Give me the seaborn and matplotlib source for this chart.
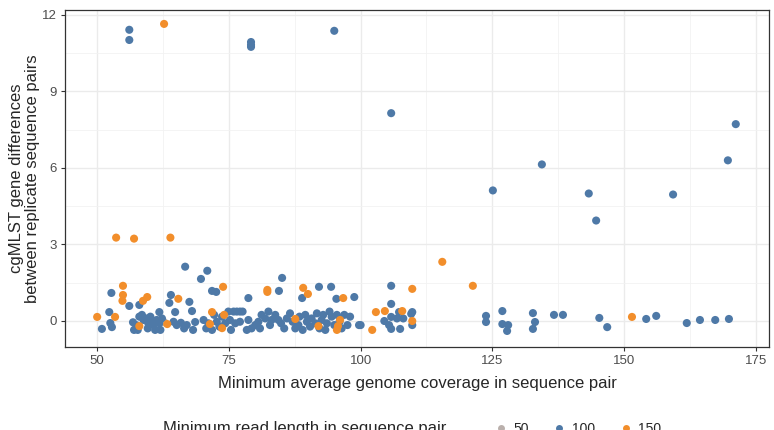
import pandas as pd
import numpy as np
import matplotlib.pyplot as plt
import seaborn as sns
from matplotlib.lines import Line2D
from matplotlib.ticker import MultipleLocator

# read length 100
cov_100 = [56.1, 56.1, 79.2, 79.2, 79.2, 95.0, 105.8, 134.4, 125.1, 143.3, 144.7, 159.3, 169.7, 171.2,
           105.8, 105.8, 107.3, 109.8, 104.5, 105.8, 106.9, 108.1, 105.4, 105.8, 107.5, 109.8, 100.0, 109.6,
           123.8, 123.8, 126.9, 126.9, 128.0, 127.8, 132.7, 133.1, 132.7, 136.7, 138.4, 145.3, 146.8,
           154.2, 156.1, 161.9, 164.4, 167.3, 169.9,
           50.9, 52.3, 52.7, 52.5, 52.8, 56.1, 58.0, 61.8, 62.0, 63.7, 64.0, 64.8, 66.7, 67.5, 68.0, 68.6,
           69.7, 70.9, 71.8, 72.6, 78.7, 84.5, 85.1, 88.9, 92.1, 94.4, 95.4, 98.8, 99.7,
           56.8, 57.0, 57.7, 58.0, 58.5, 58.8, 59.3, 59.7, 60.1, 60.4, 60.7, 57.4, 59.6,
           61.3, 61.8, 62.3, 61.0, 64.5, 65.1, 65.9, 66.5, 67.0, 68.2,
           70.2, 70.7, 71.1, 71.8, 72.2, 72.7, 73.2, 73.7, 74.3, 74.9, 75.4, 75.9, 76.5, 77.1, 77.6, 75.2, 76.2, 77.1,
           78.4, 78.7, 79.3, 80.0, 80.6, 80.9, 81.2, 81.9, 82.5, 83.1, 82.8,
           83.8, 84.4, 84.9, 85.5, 86.0, 86.6, 87.1, 87.6, 88.2, 88.4,
           89.0, 89.5, 89.8, 90.4, 90.7, 91.4, 91.7, 92.2, 92.6, 92.9, 93.6, 94.1, 93.3,
           94.5, 95.0, 95.5, 96.0, 96.4, 96.9, 97.5, 98.0]
diff_100 = [11.42, 11.02, 10.94, 10.83, 10.75, 11.38, 8.15, 6.14, 5.12, 5.0, 3.94, 4.96, 6.3, 7.72,
            1.38, 0.67, 0.35, 0.35, 0.0, 0.16, 0.1, 0.1, -0.16, -0.31, -0.31, -0.16, -0.16, 0.28,
            0.2, -0.04, 0.39, -0.12, -0.16, -0.39, 0.31, -0.04, -0.31, 0.24, 0.24, 0.12, -0.24,
            0.08, 0.2, -0.08, 0.04, 0.04, 0.08,
            -0.31, 0.35, 1.1, -0.08, -0.24, 0.59, 0.63, 0.35, -0.35, 0.71, 1.02, 0.35, 2.13, 0.75, 0.39, -0.04,
            1.65, 1.97, 1.18, 1.14, 0.9, 1.18, 1.69, 0.9, 1.34, 1.34, 0.87, 0.94, -0.16,
            -0.05, -0.35, -0.35, 0.17, 0.24, 0.04, 0.10, -0.09, 0.17, -0.03, -0.16, -0.16, -0.29,
            0.04, -0.09, 0.10, -0.35, -0.03, -0.16, -0.07, -0.29, -0.16, -0.35,
            0.04, -0.29, -0.09, -0.35, 0.24, -0.03, -0.22, 0.17, -0.09, 0.37, -0.35, 0.37, 0.37, 0.37, 0.37, 0.04, -0.09, -0.03,
            -0.35, 0.04, -0.29, -0.16, -0.03, -0.29, 0.24, 0.10, 0.37, 0.04, -0.16,
            0.24, 0.04, -0.09, -0.29, 0.10, 0.30, -0.03, -0.29, -0.16, 0.17,
            -0.35, 0.24, -0.03, -0.22, 0.10, -0.09, 0.30, -0.29, 0.04, 0.24, -0.09, 0.37, -0.35,
            0.17, -0.16, 0.24, -0.03, -0.29, 0.24, -0.16, 0.17]

# read length 150
cov_150 = [62.7, 53.6, 57.0, 63.9, 115.5, 121.3, 109.8, 102.9, 104.6, 107.9, 109.8, 102.2, 151.5,
           50.0, 53.4, 54.9, 54.9, 54.8, 58.7, 59.5, 58.0, 63.3, 65.4, 73.9, 71.8, 74.1, 73.7, 71.4,
           82.3, 82.3, 89.1, 90.0, 96.7, 87.6, 92.0, 95.7, 95.5, 96.1]
diff_150 = [11.65, 3.27, 3.23, 3.27, 2.32, 1.38, 1.26, 0.35, 0.39, 0.39, 0.0, -0.35, 0.16,
            0.16, 0.16, 1.38, 1.02, 0.79, 0.79, 0.94, -0.2, -0.12, 0.87, 1.34, 0.35, 0.24, -0.28, -0.12,
            1.22, 1.14, 1.30, 1.06, 0.9, 0.08, -0.2, -0.2, -0.35, 0.04]

# read length 50
cov_50 = [62.7]
diff_50 = [-0.04]

read_levels = ['50', '100', '150']
palette = {'50': '#BAB0AC', '100': '#4E79A7', '150': '#F28E2B'}

df = pd.concat([
    pd.DataFrame({'cov': cov_50, 'diff': diff_50, 'read': '50'}),
    pd.DataFrame({'cov': cov_100, 'diff': diff_100, 'read': '100'}),
    pd.DataFrame({'cov': cov_150, 'diff': diff_150, 'read': '150'}),
], ignore_index=True)

sns.set_style("white")
plt.rcParams['font.family'] = ['Liberation Sans', 'DejaVu Sans']

fig = plt.figure(figsize=(7.74, 4.3), dpi=100)
ax = fig.add_axes([0.084, 0.193, 0.9095, 0.784])

sns.scatterplot(data=df, x='cov', y='diff', hue='read', hue_order=read_levels,
                palette=palette, s=34, linewidth=0, alpha=1, legend=False, ax=ax, zorder=3)

ax.set_xlim(43.9, 177.5)
ax.set_ylim(-1.02, 12.2)
ax.xaxis.set_major_locator(MultipleLocator(25))
ax.xaxis.set_minor_locator(MultipleLocator(12.5))
ax.yaxis.set_major_locator(MultipleLocator(3))
ax.yaxis.set_minor_locator(MultipleLocator(1.5))
ax.grid(which='major', color='#ebebeb', linewidth=1.0, zorder=0)
ax.grid(which='minor', color='#f2f2f2', linewidth=0.6, zorder=0)
ax.set_axisbelow(True)
for sp in ax.spines.values():
    sp.set_color('#333333')
    sp.set_linewidth(0.9)
ax.tick_params(which='major', length=3, width=0.8, color='#333333',
               labelsize=9.5, labelcolor='#4d4d4d', bottom=True, left=True, pad=3)
ax.tick_params(which='minor', length=0)

ax.set_xlabel('Minimum average genome coverage in sequence pair', fontsize=12, labelpad=6)
ax.set_ylabel('cgMLST gene differences\nbetween replicate sequence pairs', fontsize=12,
              labelpad=1, linespacing=1.1)

# legend sits at the very bottom edge, half cut like in the source figure
fig.text(163 / 774, 1 / 430, 'Minimum read length in sequence pair', fontsize=12,
         ha='left', va='center')
handles = [Line2D([0], [0], marker='o', linestyle='', markersize=5,
                  markerfacecolor=palette[k], markeredgewidth=0, label=k) for k in read_levels]
fig.legend(handles=handles, ncol=3, loc='center left', bbox_to_anchor=(480 / 774, 1 / 430),
           frameon=False, fontsize=10, handletextpad=0.3, columnspacing=1.6,
           handlelength=1.2)

fig.savefig('out.png', dpi=100)
